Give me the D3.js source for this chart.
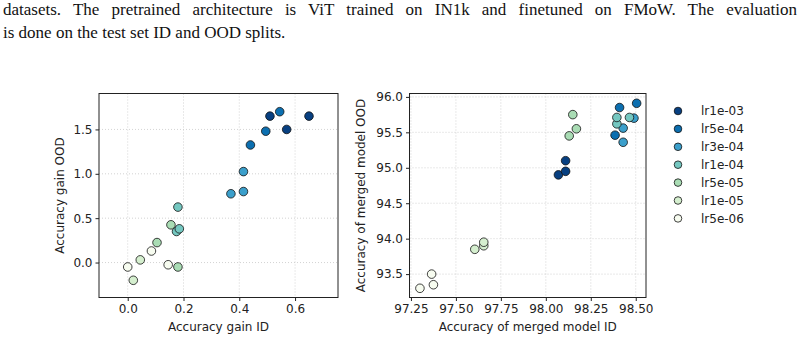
<!DOCTYPE html>
<html>
<head>
<meta charset="utf-8">
<script src="https://cdn.jsdelivr.net/npm/d3@7"></script>
<style>
  body { margin: 0; background: #fff; }
  svg { display: block; }
  .tick text { font-family: "DejaVu Sans", sans-serif; font-size: 12px; fill: #222; }
  .axis-label { font-family: "DejaVu Sans", sans-serif; font-size: 12px; fill: #222; }
  .caption { font-family: "Liberation Serif", "Times New Roman", serif; font-size: 17px; fill: #111; }
</style>
</head>
<body>
<svg id="chart" width="804" height="342"></svg>
<script>
// series (learning rates) and their colours
const LR_LABELS = ['lr1e-03', 'lr5e-04', 'lr3e-04', 'lr1e-04', 'lr5e-05', 'lr1e-05', 'lr5e-06'];
const LR_COLORS = ['#084081', '#0c6fb0', '#3b9fcb', '#74c7c0', '#a9dcb4', '#d5efcf', '#f7fcf0'];

// left panel: accuracy gain
const GAIN_ID = [
    [0.51, 0.57, 0.65],
    [0.44, 0.495, 0.545],
    [0.37, 0.415, 0.415],
    [0.175, 0.185, 0.18],
    [0.105, 0.155, 0.18],
    [0.02, 0.045],
    [0.0, 0.085, 0.145]
];
const GAIN_OOD = [
    [1.65, 1.50, 1.65],
    [1.325, 1.48, 1.70],
    [0.775, 0.80, 1.025],
    [0.35, 0.38, 0.625],
    [0.225, 0.425, -0.05],
    [-0.2, 0.03],
    [-0.05, 0.13, -0.025]
];

// right panel: accuracy of merged model
const MERGED_ID = [
    [98.07, 98.11, 98.11],
    [98.385, 98.41, 98.505],
    [98.43, 98.43, 98.49],
    [98.395, 98.395, 98.465],
    [98.13, 98.17, 98.15],
    [97.605, 97.655, 97.655],
    [97.30, 97.365, 97.375]
];
const MERGED_OOD = [
    [94.90, 94.95, 95.10],
    [95.46, 95.85, 95.91],
    [95.36, 95.56, 95.70],
    [95.62, 95.71, 95.71],
    [95.45, 95.55, 95.75],
    [93.85, 93.90, 93.95],
    [93.30, 93.50, 93.35]
];

// tick labels
const GAIN_X_TICKS = [0.0, 0.2, 0.4, 0.6];
const GAIN_Y_TICKS = [0.0, 0.5, 1.0, 1.5];
const MERGED_X_TICKS = [97.25, 97.50, 97.75, 98.00, 98.25, 98.50];
const MERGED_Y_TICKS = [93.5, 94.0, 94.5, 95.0, 95.5, 96.0];

const CAPTION = [
    'datasets. The pretrained architecture is ViT trained on IN1k and finetuned on FMoW. The evaluation',
    'is done on the test set ID and OOD splits.'
];

const SVG = d3.select('#chart');

SVG.selectAll('.caption')
    .data(CAPTION)
    .enter()
    .append('text')
    .attr('class', 'caption')
    .attr('x', 3)
    .attr('y', (d, i) => 15 + i * 23)
    .text(d => d);

// first caption line is justified in the source: widen the gaps between words
SVG.select('.caption').each(function(d) {
    const gaps = d.split(' ').length - 1;
    const extra = (794 - this.getComputedTextLength()) / gaps;
    d3.select(this).style('word-spacing', extra + 'px');
});

function toPoints(xs, ys) {
    const pts = [];
    xs.forEach((row, s) => row.forEach((x, j) => pts.push({x: x, y: ys[s][j], s: s})));
    return pts;
}

function drawPanel(opt) {
    const x = d3.scaleLinear().domain(opt.xDomain).range([opt.left, opt.right]);
    const y = d3.scaleLinear().domain(opt.yDomain).range([opt.bottom, opt.top]);
    const g = SVG.append('g');

    // dotted grid
    g.selectAll('.vgrid').data(opt.xTicks).enter().append('line')
        .attr('x1', d => x(d)).attr('x2', d => x(d))
        .attr('y1', opt.top).attr('y2', opt.bottom)
        .attr('stroke', '#c8c8c8').attr('stroke-width', 0.8).attr('stroke-dasharray', '1,2');
    g.selectAll('.hgrid').data(opt.yTicks).enter().append('line')
        .attr('x1', opt.left).attr('x2', opt.right)
        .attr('y1', d => y(d)).attr('y2', d => y(d))
        .attr('stroke', '#c8c8c8').attr('stroke-width', 0.8).attr('stroke-dasharray', '1,2');

    // points
    g.selectAll('.pt')
        .data(toPoints(opt.xs, opt.ys))
        .enter()
        .append('circle')
        .attr('cx', d => x(d.x))
        .attr('cy', d => y(d.y))
        .attr('r', 4.3)
        .attr('fill', d => LR_COLORS[d.s])
        .attr('stroke', '#111')
        .attr('stroke-width', 0.8);

    // frame
    g.append('rect')
        .attr('x', opt.left).attr('y', opt.top)
        .attr('width', opt.right - opt.left).attr('height', opt.bottom - opt.top)
        .attr('fill', 'none').attr('stroke', '#222').attr('stroke-width', 1);

    const xAxis = g.append('g')
        .attr('transform', `translate(0,${opt.bottom})`)
        .call(d3.axisBottom(x).tickValues(opt.xTicks).tickFormat(d3.format(opt.xFmt)).tickSize(3.5).tickPadding(3));
    const yAxis = g.append('g')
        .attr('transform', `translate(${opt.left},0)`)
        .call(d3.axisLeft(y).tickValues(opt.yTicks).tickFormat(d3.format(opt.yFmt)).tickSize(3.5).tickPadding(3));
    [xAxis, yAxis].forEach(a => {
        a.select('.domain').remove();
        a.selectAll('.tick line').attr('stroke', '#222');
    });

    g.append('text')
        .attr('class', 'axis-label')
        .attr('x', (opt.left + opt.right) / 2)
        .attr('y', opt.bottom + 33)
        .attr('text-anchor', 'middle')
        .text(opt.xLabel);
    g.append('text')
        .attr('class', 'axis-label')
        .attr('transform', `translate(${opt.yLabelX},${(opt.top + opt.bottom) / 2}) rotate(-90)`)
        .attr('text-anchor', 'middle')
        .text(opt.yLabel);
}

drawPanel({
    left: 99, right: 338, top: 93.5, bottom: 297.5,
    xDomain: [-0.103, 0.754], yDomain: [-0.394, 1.905],
    xTicks: GAIN_X_TICKS, yTicks: GAIN_Y_TICKS, xFmt: '.1f', yFmt: '.1f',
    xs: GAIN_ID, ys: GAIN_OOD,
    xLabel: 'Accuracy gain ID', yLabel: 'Accuracy gain OOD', yLabelX: 64
});

drawPanel({
    left: 409.5, right: 646, top: 93.5, bottom: 297.5,
    xDomain: [97.242, 98.557], yDomain: [93.17, 96.048],
    xTicks: MERGED_X_TICKS, yTicks: MERGED_Y_TICKS, xFmt: '.2f', yFmt: '.1f',
    xs: MERGED_ID, ys: MERGED_OOD,
    xLabel: 'Accuracy of merged model ID', yLabel: 'Accuracy of merged model OOD', yLabelX: 365
});

// legend
const LEGEND = SVG.append('g').attr('transform', 'translate(678,111)');
const legendRows = LEGEND.selectAll('.row')
    .data(LR_LABELS)
    .enter()
    .append('g')
    .attr('transform', (d, i) => `translate(0,${i * 17.9})`);
legendRows.append('circle')
    .attr('r', 3.8)
    .attr('fill', (d, i) => LR_COLORS[i])
    .attr('stroke', '#111')
    .attr('stroke-width', 0.8);
legendRows.append('text')
    .attr('class', 'axis-label')
    .attr('x', 23)
    .attr('y', 4.3)
    .text(d => d);
</script>
</body>
</html>
